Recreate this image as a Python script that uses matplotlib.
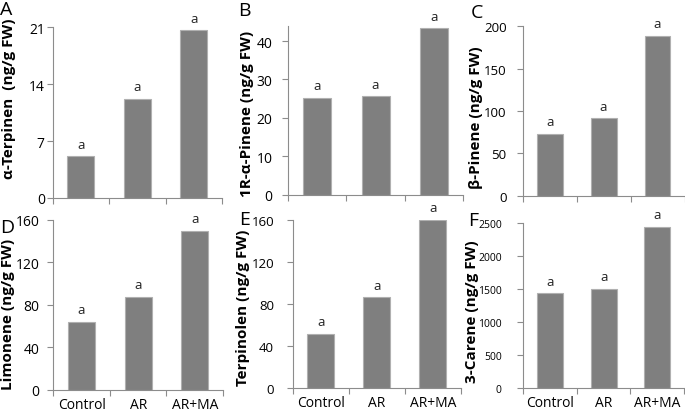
import matplotlib
matplotlib.use("Agg")
import matplotlib.pyplot as plt

plt.rcParams["font.family"] = ["Open Sans", "DejaVu Sans"]

groups = ["Control", "AR", "AR+MA"]

terpinen = [5.1, 12.2, 20.6]
a_pinene = [25.2, 25.6, 43.3]
b_pinene = [72.8, 91.4, 188.5]
limonene = [63.7, 87.5, 149.6]
terpinolen = [51.6, 86.5, 160.0]
carene = [1437, 1502, 2444]

letters = ["a", "a", "a"]

W, H = 685, 414
fig = plt.figure(figsize=(W / 100, H / 100), dpi=100)


def px_axes(x0, y0, x1, y1):
    # pixel box (left, top, right, bottom) -> figure fraction axes
    return fig.add_axes([x0 / W, 1 - y1 / H, (x1 - x0) / W, (y1 - y0) / H])


panels = [
    # box, values, ylim, yticks, ylabel, label pos, letter, letter pos,
    # ytick pad, ytick size
    ((52.5, 28, 222, 199), terpinen, 21, [0, 7, 14, 21],
     "α-Terpinen  (ng/g FW)", (9, 99), "A", (6, 10), 1.5, 10),
    ((288, 26.7, 463, 195.7), a_pinene, 44, [0, 10, 20, 30, 40],
     "1R-α-Pinene (ng/g FW)", (247, 114), "B", (244, 11), 7, 10),
    ((522.7, 27.3, 684.5, 196.7), b_pinene, 200, [0, 50, 100, 150, 200],
     "β-Pinene (ng/g FW)", (476, 118), "C", (477, 13), 7.5, 9.5),
    ((53.3, 220.7, 223, 390.7), limonene, 160, [0, 40, 80, 120, 160],
     "Limonene (ng/g FW)", (8.5, 314), "D", (7, 228), 6, 10),
    ((292.7, 221, 460.7, 389.3), terpinolen, 160, [0, 40, 80, 120, 160],
     "Terpinolen (ng/g FW)", (243, 308), "E", (245, 220), 9.5, 9.5),
    ((523.3, 224, 684, 389.3), carene, 2500, [0, 500, 1000, 1500, 2000, 2500],
     "3-Carene (ng/g FW)", (472, 312), "F", (473, 221), 11.5, 7.5),
]

spine_col = "#8c8c8c"

for i, (box, vals, ymax, yticks, ylab, lpos, letter, tpos, ypad, ysize) in enumerate(panels):
    ax = px_axes(*box)
    x = range(len(groups))
    ax.bar(x, vals, width=0.48, color="#7f7f7f", edgecolor="#b0b0b0", linewidth=0.8)
    for xi, v, t in zip(x, vals, letters):
        ax.annotate(t, (xi, v), xytext=(0, 4), textcoords="offset points",
                    ha="center", va="bottom", fontsize=9.5, color="#222222")
    ax.set_xlim(-0.5, 2.5)
    ax.set_ylim(0, ymax)
    ax.set_yticks(yticks)
    ax.set_xticks([-0.5, 0.5, 1.5, 2.5], minor=True)
    ax.set_xticks(list(x))
    if i >= 3:
        ax.set_xticklabels(groups, fontsize=10)
    else:
        ax.set_xticklabels([])
    ax.tick_params(axis="x", which="major", length=0, pad=5)
    ax.tick_params(axis="x", which="minor", length=4, color=spine_col, width=0.8)
    ax.tick_params(axis="y", length=4, color=spine_col, width=0.8, labelsize=ysize,
                   pad=ypad)
    for s in ["top", "right"]:
        ax.spines[s].set_visible(False)
    for s in ["left", "bottom"]:
        ax.spines[s].set_color(spine_col)
        ax.spines[s].set_linewidth(0.8)
    fig.text(lpos[0] / W, 1 - lpos[1] / H, ylab, rotation=90, ha="center",
             va="center", fontsize=11, fontweight="bold")
    fig.text(tpos[0] / W, 1 - tpos[1] / H, letter, ha="center", va="center",
             fontsize=14)

fig.savefig("out.png", dpi=100)
